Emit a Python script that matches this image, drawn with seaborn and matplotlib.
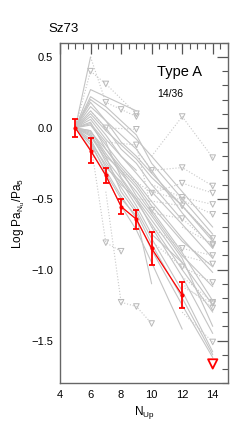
import matplotlib
matplotlib.use("Agg")
import matplotlib.pyplot as plt
import seaborn as sns
import pandas as pd
from matplotlib.ticker import MultipleLocator

# upper level N grid
n_grid = [5, 6, 7, 8, 9, 10, 12, 14]

# gray solid lines: detected line ratios of the comparison sources (values on n_grid)
det_lines = [
    [0.00, 0.50],
    [0.00, 0.27, 0.22, 0.17, 0.12],
    [0.00, 0.20, 0.12, 0.02, -0.08, -0.20, -0.45, -0.70],
    [0.00, 0.15, 0.05, -0.05, -0.15, -0.30, -0.60, -0.85],
    [0.00, 0.10, -0.02, -0.12, -0.22, -0.35, -0.55, -0.80],
    [0.00, 0.06, -0.08, -0.20, -0.32, -0.45, -0.68, -0.92],
    [0.00, 0.02, -0.12, -0.26, -0.38, -0.52, -0.78, -1.02],
    [0.00, -0.02, -0.18, -0.32, -0.45, -0.60, -0.90, -1.12],
    [0.00, -0.06, -0.22, -0.36, -0.52, -0.68, -1.00, -1.30],
    [0.00, -0.10, -0.26, -0.42, -0.58, -0.78, -1.15, -1.58],
    [0.00, -0.12, -0.30, -0.48, -0.64, -0.86, -1.25, -1.62],
    [0.00, 0.04, -0.15, -0.30, -0.42, -0.58, -0.88, -1.22],
    [0.00, -0.04, -0.24, -0.40, -0.50, -0.70, -1.05, -1.45],
    [0.00, -0.15, -0.34, -0.55, -0.72, -0.95, -1.42],
    [0.00, -0.08, -0.28, -0.38, -0.55, -0.75, -0.95, -1.25],
    [0.00, 0.12, 0.00, -0.15, -0.25, -0.40, -0.65],
    [0.00, -0.05, -0.20, -0.45, -0.60, -0.82, -1.20, -1.60],
    [0.00, 0.08, -0.05, -0.20, -0.30],
    [0.00, 0.18, 0.05, -0.10, -0.20, -0.32, -0.55, -0.78],
    [0.00, -0.03, -0.15, -0.28, -0.40, -0.55, -0.80, -0.98],
    [0.00, 0.03, -0.10, -0.35, -0.50, -0.65, -0.95],
    [0.00, -0.10, -0.32, -0.50, -0.62, -1.10],
    [0.00, 0.22, 0.15, 0.05, -0.05, -0.25, -0.50, -0.75],
    [0.00, -0.02, -0.20, -0.30, -0.48, -0.62, -0.92, -1.40],
]

# gray dotted tracks: first point is a detection, the rest are upper limits
lim_x = [
    [5, 6, 7, 9], [6, 7, 8, 9], [6, 7, 9], [10, 12, 14], [9, 10, 12, 14],
    [8, 10, 12, 14], [10, 12, 14], [10, 12, 14], [9, 12, 14], [10, 12, 14],
    [10, 12, 14], [10, 12, 14], [12, 14], [12, 14], [12, 14], [12, 14],
    [12, 14], [12, 14], [6, 7, 8], [7, 8, 9, 10], [7, 9, 10],
]
lim_y = [
    [0.00, 0.40, 0.31, 0.10], [0.50, 0.18, 0.13, 0.08], [0.12, 0.00, -0.01],
    [-0.20, 0.08, -0.21], [-0.15, -0.30, -0.28, -0.41], [-0.30, -0.46, -0.39, -0.46],
    [-0.40, -0.49, -0.54], [-0.45, -0.51, -0.61], [-0.50, -0.55, -0.78],
    [-0.60, -0.64, -0.83], [-0.70, -0.85, -0.90], [-0.80, -0.98, -1.09],
    [-0.90, -0.96], [-0.70, -0.82], [-1.05, -1.23], [-1.10, -1.27],
    [-1.12, -1.24], [-1.30, -1.51], [-0.10, -0.81, -0.87],
    [-0.45, -1.23, -1.26, -1.38], [-0.10, -0.12, -0.58],
]

# Sz73
sz_n = [5, 6, 7, 8, 9, 10, 12]
sz_val = [0.00, -0.16, -0.335, -0.555, -0.645, -0.85, -1.18]
sz_err = [0.065, 0.085, 0.055, 0.055, 0.066, 0.115, 0.094]
sz_lim_n = [14]
sz_lim_val = [-1.665]

det_rows = []
for i, ys in enumerate(det_lines):
    for n, v in zip(n_grid, ys):
        det_rows.append({"src": i, "N": n, "val": v})
det_df = pd.DataFrame(det_rows)

lim_rows, tri_rows = [], []
for i, (xs, ys) in enumerate(zip(lim_x, lim_y)):
    for j, (n, v) in enumerate(zip(xs, ys)):
        lim_rows.append({"src": i, "N": n, "val": v})
        if j > 0:
            tri_rows.append({"N": n, "val": v})
lim_df = pd.DataFrame(lim_rows)
tri_df = pd.DataFrame(tri_rows)

sns.set_style("white")
plt.rcParams["font.family"] = ["Liberation Sans", "DejaVu Sans"]
plt.rcParams["mathtext.fontset"] = "custom"
plt.rcParams["mathtext.rm"] = "Liberation Sans"
plt.rcParams["mathtext.it"] = "Liberation Sans"
plt.rcParams["text.color"] = "black"
plt.rcParams["axes.labelcolor"] = "black"
plt.rcParams["xtick.labelcolor"] = "black"
plt.rcParams["ytick.labelcolor"] = "black"

fig = plt.figure(figsize=(2.4, 4.28), dpi=100)
ax = fig.add_axes([0.25, 0.105, 0.70, 0.795])

sns.lineplot(data=lim_df, x="N", y="val", units="src", estimator=None, ax=ax,
             color="#c8c8c8", lw=0.8, ls=":")
sns.lineplot(data=det_df, x="N", y="val", units="src", estimator=None, ax=ax,
             color="#c4c4c4", lw=0.8)
sns.scatterplot(data=tri_df, x="N", y="val", marker="v", s=16, ax=ax,
                facecolors="none", edgecolor="#b8b8b8", linewidth=0.7)

sns.lineplot(x=sz_n, y=sz_val, ax=ax, color="red", lw=0.9)
ax.errorbar(sz_n, sz_val, yerr=sz_err, fmt="o", ms=2, color="red",
            elinewidth=1.3, capsize=2.3, capthick=1.3)
sns.scatterplot(x=sz_lim_n, y=sz_lim_val, marker="v", s=45, ax=ax,
                facecolors="none", edgecolor="red", linewidth=1.3, zorder=5)

ax.set_xlim(4, 15)
ax.set_ylim(-1.8, 0.6)
ax.xaxis.set_major_locator(MultipleLocator(2))
ax.xaxis.set_minor_locator(MultipleLocator(0.5))
ax.yaxis.set_major_locator(MultipleLocator(0.5))
ax.yaxis.set_minor_locator(MultipleLocator(0.1))
ax.tick_params(which="both", direction="in", top=True, right=True,
               color="#555555", labelsize=8, pad=5)
ax.tick_params(which="major", length=8, width=0.9)
ax.tick_params(which="minor", length=4, width=0.8)
ax.set_yticks([-1.5, -1.0, -0.5, 0.0, 0.5])
ax.set_yticklabels(["\u22121.5", "\u22121.0", "\u22120.5", "0.0", "0.5"])
for s in ax.spines.values():
    s.set_color("#666666")
    s.set_linewidth(1.0)

ax.set_xlabel(r"N$_{\mathregular{Up}}$", fontsize=8.5, labelpad=3)
ax.set_ylabel(r"Log Pa$_{\mathregular{N_u}}$/Pa$_{\mathregular{5}}$", fontsize=8.5, labelpad=3)

fig.text(48 / 240, 1 - 29 / 428, "Sz73", fontsize=9.5, va="center", ha="left")
ax.text(0.577, 0.913, "Type A", transform=ax.transAxes, fontsize=10.5, va="center")
ax.text(0.577, 0.85, "14/36", transform=ax.transAxes, fontsize=7.5, va="center")

fig.savefig("out.png", dpi=100)
